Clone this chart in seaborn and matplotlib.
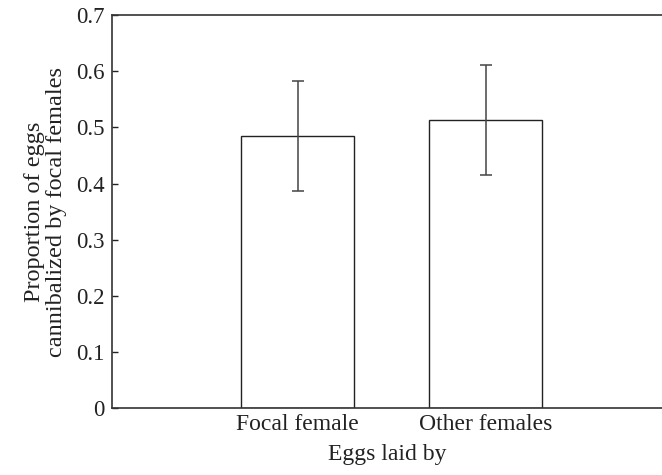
import numpy as np
import pandas as pd
import seaborn as sns
import matplotlib
matplotlib.use("Agg")
import matplotlib.pyplot as plt

# ---- DATA ----
groups = ["Focal female", "Other females"]
proportion = [0.485, 0.514]
err_low = [0.387, 0.415]
err_high = [0.582, 0.612]

df = pd.DataFrame({"laid_by": groups, "prop": proportion})

sns.set_style("ticks")
plt.rcParams["font.family"] = ["Liberation Serif", "DejaVu Serif"]

fig = plt.figure(figsize=(6.62, 4.75), dpi=100)
ax = fig.add_axes([0.169, 0.141, 0.831, 0.827])

sns.barplot(data=df, x="laid_by", y="prop", color="white", edgecolor="#222222",
            linewidth=1.0, width=0.6, errorbar=None, ax=ax)

# error bars from the interval ends
yerr = np.array([np.array(proportion) - np.array(err_low),
                 np.array(err_high) - np.array(proportion)])
ax.errorbar(np.arange(len(groups)), proportion, yerr=yerr, fmt="none",
            ecolor="#444444", elinewidth=1.1, capsize=4.5, capthick=1.1)

ax.set_xlim(-0.99, 1.94)
ax.set_ylim(0, 0.7)
ax.set_yticks([0, 0.1, 0.2, 0.3, 0.4, 0.5, 0.6, 0.7])
ax.set_yticklabels(["0", "0.1", "0.2", "0.3", "0.4", "0.5", "0.6", "0.7"])

ax.tick_params(axis="y", direction="in", length=4, width=1, labelsize=16.5,
               colors="#222222", pad=5)
ax.tick_params(axis="x", length=0, labelsize=17, colors="#222222", pad=4)

ax.set_xlabel("Eggs laid by", fontsize=17, color="#222222", labelpad=7)
ax.set_ylabel("Proportion of eggs\ncannibalized by focal females", fontsize=17.5,
              color="#222222", labelpad=7, linespacing=1.06)

for side in ["left", "bottom", "top"]:
    ax.spines[side].set_color("#333333")
    ax.spines[side].set_linewidth(1.2)
ax.spines["right"].set_visible(False)

plt.savefig("out.png", dpi=100)
